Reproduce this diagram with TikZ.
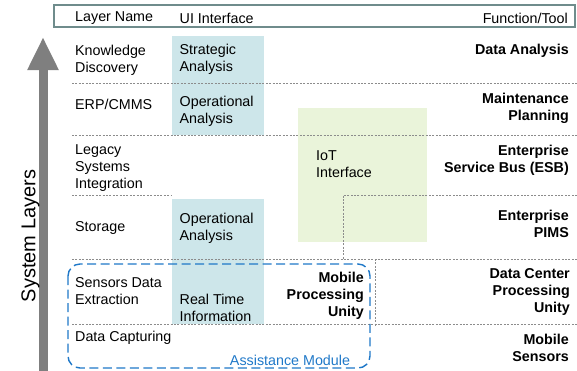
\documentclass[tikz,border=0pt]{standalone}
\usepackage{fontspec}
\setmainfont{Liberation Sans}
\usepackage{xcolor}
\usepackage{tikz}
\usetikzlibrary{arrows.meta,positioning}
\definecolor{uiteal}{HTML}{CDE6EA}
\definecolor{iotgreen}{HTML}{EAF4DA}
\definecolor{hdrborder}{HTML}{6F8C8C}
\definecolor{assistblue}{HTML}{1F78C8}
\definecolor{arrowgray}{HTML}{7F7F7F}
\definecolor{sepgray}{HTML}{8C8C8C}

\begin{document}
\begin{tikzpicture}[
    x=1pt, y=-1pt,
    every node/.style={font=\fontsize{14.3}{17}\selectfont, inner sep=0pt},
    lname/.style={anchor=west, align=left},
    fname/.style={anchor=east, align=right, font=\fontsize{14.3}{17}\selectfont\bfseries},
    rowsep/.style={draw=sepgray, line width=0.6pt, dash pattern=on 2pt off 1.4pt},
    uiblock/.style={fill=uiteal},
    iotblock/.style={fill=iotgreen},
    assistbox/.style={draw=assistblue, line width=1.4pt, dash pattern=on 9pt off 4.5pt, rounded corners=12pt},
    sysarrow/.style={arrowgray, line width=9pt, -{Triangle[length=33pt,width=29pt]}}
]
\useasboundingbox (0,0) rectangle (577,370);

\fill[uiblock] (172,36) rectangle (264,135);
\fill[uiblock] (172,199) rectangle (264,324);
\fill[iotblock] (298,108) rectangle (427,242);

\draw[rowsep] (72,83) -- (577,83);
\draw[rowsep] (72,135) -- (577,135);
\draw[rowsep] (72,195) -- (172,195);
\draw[rowsep] (577,195) -- (343,195) -- (343,259);
\draw[rowsep] (72,259) -- (577,259);
\draw[rowsep] (375,259) -- (375,326);
\draw[rowsep] (72,324) -- (577,324);

\draw[hdrborder, line width=1.3pt, fill=white] (54,5) rectangle (575,27);
\node[lname] (layername) at (75,18) {Layer Name};
\node[lname] (uiname) at (179.5,18) {UI Interface};
\node[anchor=east] (funcname) at (568,18) {Function/Tool};

\node[lname] (kd) at (75,60) {Knowledge\\Discovery};
\node[lname] (erp) at (75,104.5) {ERP/CMMS};
\node[lname] (lsi) at (75,168) {Legacy\\Systems\\Integration};
\node[lname] (stor) at (75,228) {Storage};
\node[lname] (sde) at (75,291) {Sensors Data\\Extraction};
\node[lname] (dcap) at (75,338) {Data Capturing};

\node[lname] (sa) at (179.5,59.5) {Strategic\\Analysis};
\node[lname] (oa1) at (179.5,111) {Operational\\Analysis};
\node[lname] (oa2) at (179.5,228) {Operational\\Analysis};
\node[lname] (rti) at (179.5,308) {Real Time\\Information};
\node[lname] (iot) at (316,164.5) {IoT\\Interface};

\node[fname] (da) at (569,50.5) {Data Analysis};
\node[fname] (mp) at (569,108) {Maintenance\\Planning};
\node[fname] (esb) at (569,160) {Enterprise\\Service Bus (ESB)};
\node[fname] (pims) at (569,224) {Enterprise \\PIMS};
\node[fname] (dcpu) at (570,292) {Data Center\\Processing\\Unity};
\node[fname] (ms) at (569,348) {Mobile \\Sensors};
\node[fname] (mpu) at (364,295.5) {Mobile\\Processing\\Unity};

\draw[assistbox] (68,264) rectangle (370,368);
\node[text=assistblue] (assist) at (290,360) {Assistance Module};

\coordinate (axisbot) at (43,372);
\coordinate (axistop) at (43,37);
\draw[sysarrow] (axisbot) -- (axistop);
\node[rotate=90, font=\fontsize{20}{23}\selectfont] (syslayers) at (30.5,236) {System Layers};
\end{tikzpicture}
\end{document}
